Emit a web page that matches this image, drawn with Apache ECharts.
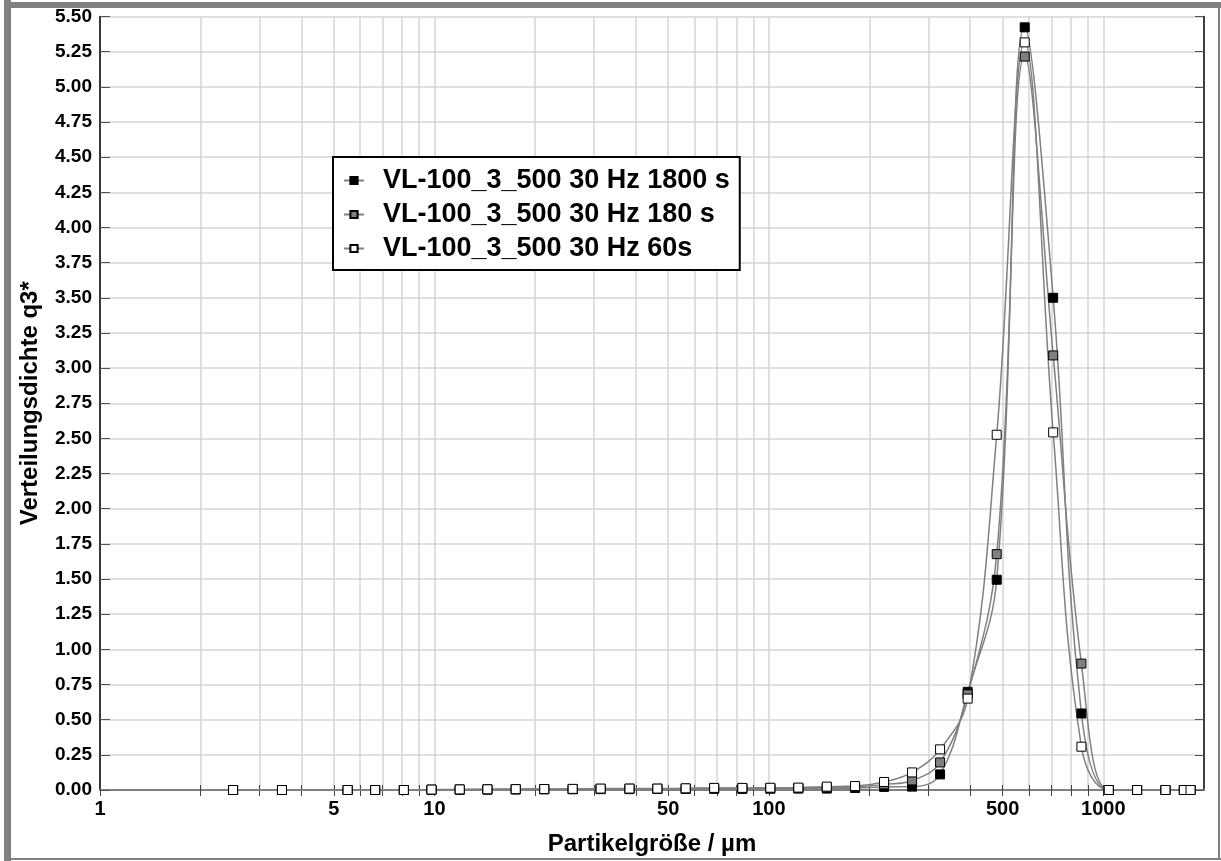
<!DOCTYPE html>
<html>
<head>
<meta charset="utf-8">
<script src="https://cdn.jsdelivr.net/npm/echarts@6/dist/echarts.min.js"></script>
<style>html,body{margin:0;padding:0;background:#fff;}#c{width:1221px;height:861px;}</style>
</head>
<body>
<div id="c"></div>
<script>
// Particle size classes (µm)
const xValues = [2.5, 3.5, 5.5, 6.65, 8.1, 9.8, 11.9, 14.4, 17.5, 21.3, 25.9, 31.4, 38.3, 46.4, 56.4, 68.6, 83.3, 101, 122.5, 149, 181, 221, 268, 325, 393, 480, 582, 708, 860, 1038, 1262, 1534, 1741, 1823];
// Distribution density q3*
const black1800 = [0, 0, 0, 0, 0, 0.001, 0.002, 0.003, 0.004, 0.005, 0.005, 0.006, 0.006, 0.007, 0.007, 0.008, 0.008, 0.009, 0.01, 0.01, 0.014, 0.022, 0.024, 0.111, 0.698, 1.495, 5.423, 3.50, 0.544, 0, 0, 0, 0, 0];
const gray180 = [0, 0, 0, 0, 0, 0.002, 0.003, 0.004, 0.005, 0.006, 0.007, 0.008, 0.009, 0.009, 0.01, 0.012, 0.012, 0.013, 0.014, 0.018, 0.022, 0.04, 0.068, 0.196, 0.68, 1.677, 5.215, 3.09, 0.899, 0, 0, 0, 0, 0];
const white60 = [0, 0, 0, 0, 0, 0.003, 0.004, 0.005, 0.006, 0.007, 0.008, 0.01, 0.01, 0.01, 0.012, 0.015, 0.015, 0.016, 0.017, 0.024, 0.028, 0.057, 0.125, 0.289, 0.65, 2.526, 5.316, 2.543, 0.308, 0, 0, 0, 0, 0];
const seriesNames = ['VL-100_3_500 30 Hz 1800 s', 'VL-100_3_500 30 Hz 180 s', 'VL-100_3_500 30 Hz 60s'];
const xLabelValues = [1, 5, 10, 50, 100, 500, 1000];
const xTickValues = [1, 2, 3, 4, 5, 6, 7, 8, 9, 10, 20, 30, 40, 50, 60, 70, 80, 90, 100, 200, 300, 400, 500, 600, 700, 800, 900, 1000];

const FONT = '"Liberation Sans", Arial, sans-serif';
function pairs(ys) { return xValues.map((x, i) => [x, ys[i]]); }
function mk(name, ys, fill) {
  return {
    name: name, type: 'line', data: pairs(ys), smooth: 0.4,
    symbol: 'rect', symbolSize: 9, showAllSymbol: true,
    lineStyle: { color: '#808080', width: 1.5 },
    itemStyle: { color: fill, borderColor: '#000', borderWidth: 1 },
    emphasis: { disabled: true }
  };
}
const chart = echarts.init(document.getElementById('c'), null, { renderer: 'canvas' });
const xCommon = {
  type: 'log', logBase: 10, min: 1, max: 2000
};
chart.setOption({
  animation: false,
  backgroundColor: '#fff',
  grid: { left: 100, right: 17, top: 16.5, bottom: 69.3, containLabel: false },
  legend: {
    orient: 'vertical', left: 333, top: 157,
    backgroundColor: '#fff', borderColor: '#000', borderWidth: 2,
    padding: [10, 10, 8, 10], itemGap: 7, itemWidth: 20, itemHeight: 9,
    textStyle: { fontFamily: FONT, fontWeight: 'bold', fontSize: 27, color: '#000', padding: [0, 0, 0, 14] },
    data: seriesNames
  },
  xAxis: [
    Object.assign({}, xCommon, {
      position: 'bottom',
      name: 'Partikelgröße / µm', nameLocation: 'middle', nameGap: 42,
      nameTextStyle: { fontFamily: FONT, fontWeight: 'bold', fontSize: 24, color: '#000' },
      axisLine: { show: true, lineStyle: { color: '#777', width: 2 } },
      axisTick: { show: true, inside: true, length: 5, customValues: xTickValues, lineStyle: { color: '#444' } },
      axisLabel: { show: true, customValues: xLabelValues, margin: 9, fontFamily: FONT, fontWeight: 'bold', fontSize: 20, color: '#000', formatter: v => String(Math.round(v)) },
      splitLine: { show: true, lineStyle: { color: '#d4d4d4', width: 1.5 } },
      minorTick: { show: false }, minorSplitLine: { show: false }
    }),
    Object.assign({}, xCommon, {
      position: 'top',
      axisLine: { show: true, lineStyle: { color: '#808080', width: 2 } },
      axisTick: { show: true, inside: true, length: 6, customValues: xTickValues, lineStyle: { color: '#444' } },
      axisLabel: { show: false },
      splitLine: { show: false }
    })
  ],
  yAxis: [
    {
      type: 'value', min: 0, max: 5.5, interval: 0.25, position: 'left',
      name: 'Verteilungsdichte q3*', nameLocation: 'middle', nameGap: 58, nameRotate: 90,
      nameTextStyle: { fontFamily: FONT, fontWeight: 'bold', fontSize: 24, color: '#000' },
      axisLine: { show: true, lineStyle: { color: '#000', width: 1.5 } },
      axisTick: { show: true, inside: true, length: 10, lineStyle: { color: '#555' } },
      axisLabel: { margin: 8, fontFamily: FONT, fontWeight: 'bold', fontSize: 19, color: '#000', formatter: v => v.toFixed(2) },
      splitLine: { show: true, lineStyle: { color: '#d4d4d4', width: 1.5 } }
    },
    {
      type: 'value', min: 0, max: 5.5, interval: 0.25, position: 'right',
      axisLine: { show: true, lineStyle: { color: '#000', width: 1.5 } },
      axisTick: { show: true, inside: true, length: 9, lineStyle: { color: '#555' } },
      axisLabel: { show: false },
      splitLine: { show: false }
    }
  ],
  series: [
    mk(seriesNames[0], black1800, '#000000'),
    mk(seriesNames[1], gray180, '#808080'),
    mk(seriesNames[2], white60, '#ffffff')
  ],
  graphic: [
    { type: 'rect', left: 4, top: 0, shape: { width: 7, height: 861 }, style: { fill: '#808080' }, silent: true },
    { type: 'rect', left: 4, top: 2, shape: { width: 1217, height: 6 }, style: { fill: '#808080' }, silent: true },
    { type: 'rect', left: 4, top: 858, shape: { width: 1217, height: 2 }, style: { fill: '#808080' }, silent: true },
    { type: 'rect', left: 1218, top: 2, shape: { width: 2, height: 858 }, style: { fill: '#808080' }, silent: true }
  ]
});
</script>
</body>
</html>
